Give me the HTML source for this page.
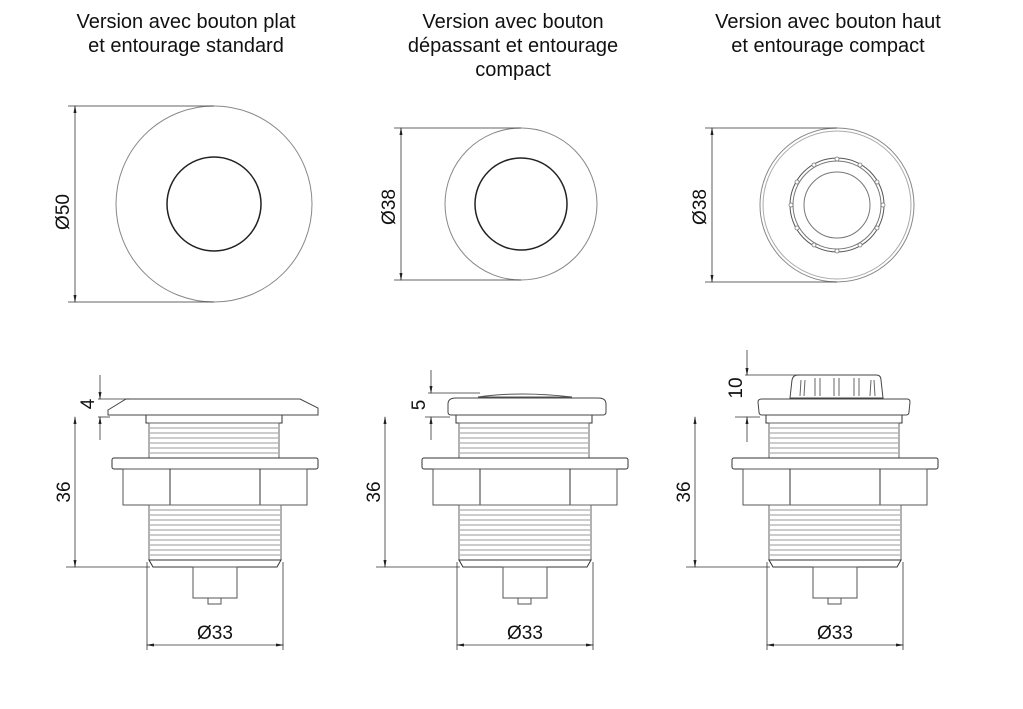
<!DOCTYPE html>
<html><head><meta charset="utf-8"><style>
html,body{margin:0;padding:0;background:#fff;}
svg{display:block;}
text{font-family:"Liberation Sans",Arial,sans-serif;fill:#111;stroke:none;}
</style></head><body>
<svg width="1023" height="709" viewBox="0 0 1023 709" xmlns="http://www.w3.org/2000/svg">
<defs>
<marker id="a" markerWidth="8" markerHeight="8" refX="7" refY="4" orient="auto-start-reverse" markerUnits="userSpaceOnUse"><path d="M0,2.5 L8,4 L0,5.5z" fill="#222"/></marker>
<g id="body">
 <g fill="#fff" stroke="#333" stroke-width="1">
  <rect x="146" y="415" width="136" height="8"/>
  <rect x="149" y="423" width="130" height="35" stroke="#666"/>
  <g stroke="#999" stroke-width="1">
    <line x1="150" y1="428" x2="278" y2="428"/><line x1="150" y1="433" x2="278" y2="433"/>
    <line x1="150" y1="438" x2="278" y2="438"/><line x1="150" y1="443" x2="278" y2="443"/>
    <line x1="150" y1="448" x2="278" y2="448"/><line x1="150" y1="453" x2="278" y2="453"/>
  </g>
  <rect x="112" y="458" width="206" height="11" rx="2"/>
  <rect x="123" y="469" width="184" height="36" stroke="#555"/>
  <line x1="170" y1="469" x2="170" y2="505"/><line x1="260" y1="469" x2="260" y2="505"/>
  <rect x="149" y="505" width="132" height="55" stroke="#666"/>
  <g stroke="#999">
    <line x1="150" y1="510" x2="280" y2="510"/><line x1="150" y1="515" x2="280" y2="515"/>
    <line x1="150" y1="520" x2="280" y2="520"/><line x1="150" y1="525" x2="280" y2="525"/>
    <line x1="150" y1="530" x2="280" y2="530"/><line x1="150" y1="535" x2="280" y2="535"/>
    <line x1="150" y1="540" x2="280" y2="540"/><line x1="150" y1="545" x2="280" y2="545"/>
    <line x1="150" y1="550" x2="280" y2="550"/><line x1="150" y1="555" x2="280" y2="555"/>
  </g>
  <path d="M149,560 L281,560 L277,567 L153,567z"/>
  <rect x="193" y="567" width="44" height="31" stroke="#555"/>
  <rect x="208" y="598" width="13" height="6" stroke="#555"/>
 </g>
  <g stroke="#333" fill="none" stroke-width="0.8">
    <line x1="66" y1="567" x2="150" y2="567"/>
    <line x1="75" y1="417" x2="75" y2="567" marker-start="url(#a)" marker-end="url(#a)"/>
    <line x1="147" y1="562" x2="147" y2="650"/><line x1="283" y1="562" x2="283" y2="650"/>
    <line x1="147" y1="645" x2="283" y2="645" marker-start="url(#a)" marker-end="url(#a)"/>
  </g>
  <text x="215" y="639" font-size="19" text-anchor="middle">Ø33</text>
  <text transform="translate(70,492) rotate(-90)" font-size="19" text-anchor="middle">36</text>
</g>
</defs>

<text font-size="20" text-anchor="middle"><tspan x="186" y="28">Version avec bouton plat</tspan><tspan x="186" y="52">et entourage standard</tspan></text>
<text font-size="20" text-anchor="middle"><tspan x="513" y="28">Version avec bouton</tspan><tspan x="513" y="52">dépassant et entourage</tspan><tspan x="513" y="76">compact</tspan></text>
<text font-size="20" text-anchor="middle"><tspan x="828" y="28">Version avec bouton haut</tspan><tspan x="828" y="52">et entourage compact</tspan></text>

<g fill="none" stroke="#444">
  <circle cx="214" cy="204" r="98" stroke="#888"/>
  <circle cx="214" cy="204" r="47" stroke="#222" stroke-width="1.5"/>
  <circle cx="521" cy="204" r="76" stroke="#888"/>
  <circle cx="521" cy="204" r="46" stroke="#222" stroke-width="1.5"/>
  <circle cx="837" cy="205" r="77" stroke="#888"/>
  <circle cx="837" cy="205" r="74" stroke="#aaa"/>
  <circle cx="837" cy="205" r="47" stroke="#555"/>
  <circle cx="837" cy="205" r="44" stroke="#777"/>
  <circle cx="837" cy="205" r="33" stroke="#777"/>
</g>
<g fill="#fff" stroke="#777" stroke-width="0.8">
  <circle cx="837" cy="159" r="2"/><circle cx="860" cy="165" r="2"/><circle cx="877" cy="182" r="2"/><circle cx="883" cy="205" r="2"/><circle cx="877" cy="228" r="2"/><circle cx="860" cy="245" r="2"/><circle cx="837" cy="251" r="2"/><circle cx="814" cy="245" r="2"/><circle cx="797" cy="228" r="2"/><circle cx="791" cy="205" r="2"/><circle cx="797" cy="182" r="2"/><circle cx="814" cy="165" r="2"/>
</g>
<g stroke="#333" stroke-width="0.8" fill="none">
  <line x1="68" y1="106" x2="214" y2="106"/><line x1="68" y1="302" x2="214" y2="302"/>
  <line x1="75" y1="106" x2="75" y2="302" marker-start="url(#a)" marker-end="url(#a)"/>
  <line x1="394" y1="128" x2="521" y2="128"/><line x1="394" y1="280" x2="521" y2="280"/>
  <line x1="401" y1="128" x2="401" y2="280" marker-start="url(#a)" marker-end="url(#a)"/>
  <line x1="705" y1="128" x2="837" y2="128"/><line x1="705" y1="282" x2="837" y2="282"/>
  <line x1="712" y1="128" x2="712" y2="282" marker-start="url(#a)" marker-end="url(#a)"/>
</g>
<text transform="translate(69,212) rotate(-90)" font-size="19" text-anchor="middle">Ø50</text>
<text transform="translate(395,207) rotate(-90)" font-size="19" text-anchor="middle">Ø38</text>
<text transform="translate(706,207) rotate(-90)" font-size="19" text-anchor="middle">Ø38</text>

<use href="#body"/>
<use href="#body" transform="translate(310,0)"/>
<use href="#body" transform="translate(620,0)"/>

<path d="M108,410 L126,399 L300,399 L318,408 L318,415 L108,415z" fill="#fff" stroke="#444"/>
<g stroke="#333" stroke-width="0.8" fill="none">
  <line x1="98" y1="399" x2="130" y2="399"/><line x1="98" y1="417" x2="110" y2="417"/>
  <line x1="100" y1="375" x2="100" y2="399" marker-end="url(#a)"/>
  <line x1="100" y1="440" x2="100" y2="417" marker-end="url(#a)"/>
</g>
<text transform="translate(94,404) rotate(-90)" font-size="19" text-anchor="middle">4</text>

<path d="M478,397 Q520,391 572,397 Z" fill="#fff" stroke="#555"/>
<path d="M448,412 L448,404 Q448,398 456,398 L598,398 Q606,398 606,404 L606,412 Q606,415 603,415 L451,415 Q448,415 448,412z" fill="#fff" stroke="#444"/>
<g stroke="#333" stroke-width="0.8" fill="none">
  <line x1="428" y1="393" x2="480" y2="393"/><line x1="425" y1="417" x2="450" y2="417"/>
  <line x1="431" y1="370" x2="431" y2="393" marker-end="url(#a)"/>
  <line x1="431" y1="440" x2="431" y2="417" marker-end="url(#a)"/>
</g>
<text transform="translate(425,405) rotate(-90)" font-size="19" text-anchor="middle">5</text>

<g fill="#fff" stroke="#444">
  <path d="M790,398 L792,380 Q793,375 798,375 L876,375 Q881,375 881,380 L883,398z"/>
  <g stroke="#666" fill="none"><path d="M800,396 L801,380 M804,396 L805,380"/><path d="M815,396 L815,378 M820,396 L820,378"/><path d="M834,396 L834,378 M839,396 L839,378"/><path d="M854,396 L854,378 M859,396 L859,378"/><path d="M870,396 L871,380 M875,396 L874,380"/></g>
  <path d="M759,412 L758,402 Q758,399 762,399 L907,399 Q910,399 910,402 L909,412 Q909,415 906,415 L762,415 Q759,415 759,412z"/>
</g>
<g stroke="#333" stroke-width="0.8" fill="none">
  <line x1="745" y1="375" x2="800" y2="375"/><line x1="735" y1="417" x2="760" y2="417"/>
  <line x1="747" y1="350" x2="747" y2="375" marker-end="url(#a)"/>
  <line x1="747" y1="442" x2="747" y2="417" marker-end="url(#a)"/>
</g>
<text transform="translate(742,388) rotate(-90)" font-size="19" text-anchor="middle">10</text>
</svg>
</body></html>
